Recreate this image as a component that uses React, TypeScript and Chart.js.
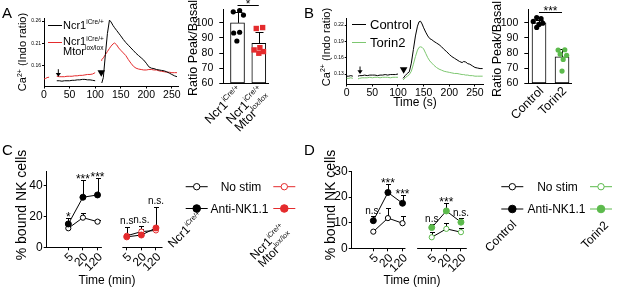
import React, { useEffect, useRef } from 'react';
import { Chart, registerables } from 'chart.js';

Chart.register(...registerables);

const FONT = '"Liberation Sans", Arial, Helvetica, sans-serif';
const INK = '#000000';
const RED = '#e42b2d';
const GREEN = '#5cba4c';
const TRACE_GREEN = '#7dc770';

// ---------------- Panel A: Ca2+ traces ----------------
const aTime = [0, 3, 6, 10, 18, 25, 30, 35, 40, 45, 50, 55, 60, 65, 70, 75, 80, 85, 90, 95, 100, 106,
  112, 113, 116, 120, 124, 128, 131, 135, 138, 142, 146, 150,
  155, 160, 165, 170, 175, 180, 185, 190, 195, 200, 205, 210, 215, 220, 225, 230, 235, 240, 245, 250, 255, 260];
const aNcr1 = [null, null, null, null, null,
  0.127, 0.127, 0.126, 0.127, 0.127, 0.127, 0.128, 0.128, 0.129, 0.129, 0.130, 0.130, 0.129, 0.129, 0.128, 0.127,
  null,
  null, 0.122, 0.134, 0.185, 0.232, 0.262, 0.258, 0.250, 0.245, 0.239, 0.233, 0.227,
  0.219, 0.212, 0.206, 0.200, 0.194, 0.188, 0.183, 0.178, 0.173, 0.166, 0.158, 0.155, 0.154, 0.152, 0.151, 0.150, 0.149, 0.147, 0.144, 0.141, 0.138, 0.136];
const aMtor = [0.131, 0.132, 0.134, 0.135, null,
  0.137, 0.136, 0.136, 0.136, 0.137, 0.137, 0.137, 0.138, 0.138, 0.139, 0.139, 0.140, 0.141, 0.141, 0.142, 0.145,
  null,
  0.172, 0.174, 0.178, 0.185, 0.192, 0.199, 0.204, 0.209, 0.211, 0.207, 0.200, 0.195,
  0.189, 0.183, 0.174, 0.166, 0.159, 0.155, 0.153, 0.152, 0.151, 0.151, 0.152, 0.152, 0.151, 0.151, 0.149, 0.148, 0.147, 0.146, 0.146, 0.145, 0.145, 0.145];
const aStimTime = [28, 112];
const aStimLevel = [0.136, 0.136];
const traceXTicks = [0, 50, 100, 150, 200, 250];
const aTraceYTicks = [0.16, 0.21, 0.26];

// ---------------- Panel A: peak/basal bars ----------------
const aBarMean = [100, 86.5];
const aBarSd = [7.2, 7.6];
const aNcr1Dots = [107.3, 108.2, 105.2, 93.3, 93.8, 88.0];
const aNcr1Jitter = [-0.2, 0.1, 0.28, -0.18, 0.1, -0.03];
const aMtorDots = [96.3, 96.9, 83.6, 82.1, 81.0, 79.9];
const aMtorJitter = [-0.12, 0.18, 0.05, -0.22, 0.22, 0.0];
const aBarSig = '*';
const ratioTicks = [60, 70, 80, 90, 100];

// ---------------- Panel B: Ca2+ traces ----------------
const bTime = [0, 4, 8, 12, 17, 22, 25, 30, 35, 40, 45, 50, 55, 60, 65, 70, 75, 80, 85, 90, 95, 100, 105,
  110, 114, 118, 122, 126, 130, 134, 138, 141, 144, 147, 150, 154, 158, 162, 166, 170,
  175, 180, 185, 190, 195, 200, 205, 210, 215, 220, 225, 228, 232, 236, 240, 245, 250, 255, 260, 265];
const bControl = [0.126, 0.126, 0.127, 0.126, null, 0.126, 0.127,
  0.127, 0.128, 0.127, 0.128, 0.128, 0.128, 0.127, 0.128, 0.128, 0.129, 0.128, 0.129, 0.129, 0.129, 0.130,
  null,
  0.122, 0.127, 0.131, 0.134, 0.150, 0.175, 0.200, 0.218, 0.226, 0.227, 0.222, 0.215,
  0.207, 0.200, 0.195, 0.193, 0.190,
  0.187, 0.184, 0.180, 0.175, 0.171, 0.166, 0.162, 0.159, 0.156, 0.153, 0.151, 0.153, 0.152, 0.149,
  0.148, 0.145, 0.142, 0.141, 0.140, 0.140];
const bTorin2 = [0.122, 0.122, 0.123, 0.122, null, 0.121, 0.122,
  0.123, 0.123, 0.123, 0.124, 0.123, 0.124, 0.124, 0.123, 0.124, 0.124, 0.124, 0.123, 0.124, 0.124, 0.124,
  null,
  0.119, 0.123, 0.126, 0.129, 0.135, 0.148, 0.162, 0.174, 0.179, 0.180, 0.179, 0.176,
  0.168, 0.160, 0.154, 0.150, 0.146,
  0.142, 0.139, 0.137, 0.135, 0.134, 0.133, 0.132, 0.131, 0.131, 0.130, 0.129, 0.129, 0.128, 0.128,
  0.127, 0.127, 0.126, 0.126, 0.126, 0.126];
const bStimTime = [26, 111];
const bStimLevel = [0.130, 0.1305];
const bTraceYTicks = [0.13, 0.16, 0.19, 0.22];
const bLegendNames = ['Control', 'Torin2'];

// ---------------- Panel B: peak/basal bars ----------------
const bBarNames = ['Control', 'Torin2'];
const bBarMean = [100, 77.5];
const bBarSd = [1.8, 5.0];
const bControlDots = [103.5, 102.8, 101.0, 99.8, 99.0, 97.0];
const bControlJitter = [-0.1, 0.09, -0.25, 0.16, 0.0, -0.1];
const bTorinDots = [82.0, 82.2, 79.3, 78.5, 75.8, 68.1];
const bTorinJitter = [-0.17, 0.12, -0.08, 0.2, 0.05, 0.0];
const bBarSig = '***';

// ---------------- Panels C and D: conjugates ----------------
const timeLabels = ['5', '20', '120'];
const legendNames = ['No stim', 'Anti-NK1.1'];
const cNcr1NoStim = [12.4, 19.3, 16.7];
const cNcr1NoStimSd = [1.5, 3.3, 0.8];
const cNcr1Anti = [15.2, 32.6, 34.1];
const cNcr1AntiSd = [3.7, 11.2, 10.8];
const cMtorNoStim = [7.5, 10.2, 11.0];
const cMtorNoStimSd = [1.2, 2.0, 1.0];
const cMtorAnti = [6.8, 8.0, 12.6];
const cMtorAntiSd = [6.6, 6.1, 13.7];
const cSigNcr1 = ['*', '***', '***'];
const cSigMtor = ['n.s', 'n.s.', 'n.s.'];
const cYTicks = [0, 20, 40];

const dCtrlNoStim = [6.5, 11.8, 9.8];
const dCtrlNoStimSd = [0.8, 3.9, 3.0];
const dCtrlAnti = [10.8, 21.8, 17.6];
const dCtrlAntiSd = [1.7, 3.5, 3.4];
const dTorNoStim = [4.3, 7.6, 6.3];
const dTorNoStimSd = [2.0, 2.2, 1.5];
const dTorAnti = [8.1, 14.6, 10.2];
const dTorAntiSd = [1.2, 3.0, 1.6];
const dSigCtrl = ['n.s.', '***', '***'];
const dSigTor = ['n.s', '***', 'n.s.'];
const dYTicks = [0, 10, 20, 30];

// ---------------- helpers ----------------
type Part = { t: string; s?: boolean };
type Box = { x: number; y: number; w: number; h: number };
type Area = { l: number; t: number; r: number; b: number };

const ncr1Label: Part[] = [{ t: 'Ncr1' }, { t: 'iCre/+', s: true }];
const mtorLabel: Part[] = [{ t: 'Mtor' }, { t: 'lox/lox', s: true }];
const caLabel: Part[] = [{ t: 'Ca' }, { t: '2+', s: true }, { t: ' (Indo ratio)' }];

function drawRich(ctx: CanvasRenderingContext2D, parts: Part[], x: number, y: number, size: number, sup: number,
  align: string, angle: number, color: string) {
  ctx.save();
  ctx.translate(x, y);
  if (angle) ctx.rotate(angle);
  let w = 0;
  for (const p of parts) { ctx.font = `${p.s ? sup : size}px ${FONT}`; w += ctx.measureText(p.t).width; }
  let cx = align === 'left' ? 0 : align === 'right' ? -w : -w / 2;
  const base = size * 0.36;
  ctx.fillStyle = color;
  ctx.textAlign = 'left';
  ctx.textBaseline = 'alphabetic';
  for (const p of parts) {
    ctx.font = `${p.s ? sup : size}px ${FONT}`;
    ctx.fillText(p.t, cx, p.s ? base - size * 0.42 : base);
    cx += ctx.measureText(p.t).width;
  }
  ctx.restore();
}

function drawRotLines(ctx: CanvasRenderingContext2D, lines: Part[][], ax: number, ay: number, size: number, sup: number, lh: number) {
  ctx.save();
  ctx.translate(ax, ay);
  ctx.rotate(-Math.PI / 4);
  lines.forEach((parts, j) => drawRich(ctx, parts, 0, j * lh, size, sup, 'right', 0, INK));
  ctx.restore();
}

function hline(ctx: CanvasRenderingContext2D, x0: number, x1: number, y: number, color: string) {
  ctx.save();
  ctx.strokeStyle = color;
  ctx.lineWidth = 1;
  ctx.beginPath();
  ctx.moveTo(x0, y);
  ctx.lineTo(x1, y);
  ctx.stroke();
  ctx.restore();
}

function drawArrow(ctx: CanvasRenderingContext2D, x: number, tip: number) {
  ctx.save();
  ctx.strokeStyle = INK;
  ctx.fillStyle = INK;
  ctx.lineWidth = 1;
  ctx.beginPath();
  ctx.moveTo(x, tip - 7.5);
  ctx.lineTo(x, tip - 2.5);
  ctx.stroke();
  ctx.beginPath();
  ctx.moveTo(x - 2.6, tip - 3.8);
  ctx.lineTo(x + 2.6, tip - 3.8);
  ctx.lineTo(x, tip);
  ctx.closePath();
  ctx.fill();
  ctx.restore();
}

function drawTriangle(ctx: CanvasRenderingContext2D, x: number, tip: number) {
  ctx.save();
  ctx.fillStyle = INK;
  ctx.beginPath();
  ctx.moveTo(x - 3.8, tip - 6.5);
  ctx.lineTo(x + 3.8, tip - 6.5);
  ctx.lineTo(x, tip);
  ctx.closePath();
  ctx.fill();
  ctx.restore();
}

function zeroPad(s: any) {
  s.paddingLeft = 0; s.paddingRight = 0; s.paddingTop = 0; s.paddingBottom = 0;
}

function axisX(min: number, max: number, ticks: number[], size: number, tl: number, pad: number, extra: any = {}) {
  return {
    type: 'linear', min, max,
    grid: { display: true, drawOnChartArea: false, drawTicks: tl > 0, tickLength: tl, color: INK, lineWidth: 1 },
    border: { display: extra.border !== false, color: INK, width: 1 },
    ticks: {
      display: extra.labels !== false, color: INK, font: { family: FONT, size }, padding: pad, autoSkip: false,
      maxRotation: 0, minRotation: 0,
      callback: extra.fmt || ((v: any) => String(v)),
    },
    afterBuildTicks: (s: any) => { s.ticks = ticks.map((v) => ({ value: v })); },
  };
}

function axisY(min: number, max: number, ticks: number[], size: number, tl: number, pad: number, fmt?: any) {
  return {
    type: 'linear', min, max,
    grid: { display: true, drawOnChartArea: false, drawTicks: true, tickLength: tl, color: INK, lineWidth: 1 },
    border: { display: true, color: INK, width: 1 },
    ticks: { color: INK, font: { family: FONT, size }, padding: pad, autoSkip: false, callback: fmt || ((v: any) => String(v)) },
    afterBuildTicks: (s: any) => { s.ticks = ticks.map((v) => ({ value: v })); },
  };
}

function baseOptions() {
  return {
    responsive: false, maintainAspectRatio: false, animation: false, devicePixelRatio: 1, events: [],
    plugins: { legend: { display: false }, tooltip: { enabled: false }, title: { display: false } },
  };
}

function traceSet(time: number[], vals: (number | null)[], color: string) {
  return {
    data: time.map((t, i) => ({ x: t, y: vals[i] })),
    borderColor: color, borderWidth: 1, pointRadius: 0, spanGaps: false, clip: false, tension: 0,
  };
}

// ---------------- chart builders ----------------
const A_LINE_BOX: Box = { x: 0, y: 0, w: 185, h: 120 };
const A_LINE_AREA: Area = { l: 44, t: 18, r: 178, b: 86.5 };
function buildALine() {
  const box = A_LINE_BOX;
  return {
    type: 'line',
    data: { datasets: [traceSet(aTime, aNcr1, INK), traceSet(aTime, aMtor, RED)] },
    options: {
      ...baseOptions(),
      scales: {
        x: axisX(0, 262, traceXTicks, 10.5, 2, 0),
        y: axisY(0.1142, 0.2667, aTraceYTicks, 5, 2, 1, (v: number) => v.toFixed(2)),
      },
    },
    plugins: [{
      id: 'aLineExtras',
      afterDraw(chart: any) {
        const ctx = chart.ctx, xs = chart.scales.x, ys = chart.scales.y;
        drawArrow(ctx, xs.getPixelForValue(aStimTime[0]), ys.getPixelForValue(aStimLevel[0]));
        drawTriangle(ctx, xs.getPixelForValue(aStimTime[1]), ys.getPixelForValue(aStimLevel[1]));
        ctx.save();
        ctx.translate(-box.x, -box.y);
        drawRich(ctx, [{ t: 'A' }], 2, 13, 15, 9, 'left', 0, INK);
        drawRich(ctx, caLabel, 22.5, 52, 11, 7, 'center', -Math.PI / 2, INK);
        hline(ctx, 48, 62, 25.5, INK);
        drawRich(ctx, ncr1Label, 63, 25, 11, 6.5, 'left', 0, INK);
        hline(ctx, 48, 62, 42.5, RED);
        drawRich(ctx, ncr1Label, 63, 41.5, 11, 6.5, 'left', 0, INK);
        drawRich(ctx, mtorLabel, 63, 51, 11, 6.5, 'left', 0, INK);
        ctx.restore();
      },
    }],
  };
}

const B_LINE_BOX: Box = { x: 303, y: 0, w: 185, h: 115 };
const B_LINE_AREA: Area = { l: 346.7, t: 18, r: 483, b: 84.5 };
function buildBLine() {
  const box = B_LINE_BOX;
  return {
    type: 'line',
    data: { datasets: [traceSet(bTime, bControl, INK), traceSet(bTime, bTorin2, TRACE_GREEN)] },
    options: {
      ...baseOptions(),
      scales: {
        x: axisX(0, 265.7, traceXTicks, 10.5, 2, 0),
        y: axisY(0.1107, 0.233, bTraceYTicks, 5, 2, 1, (v: number) => v.toFixed(2)),
      },
    },
    plugins: [{
      id: 'bLineExtras',
      afterDraw(chart: any) {
        const ctx = chart.ctx, xs = chart.scales.x, ys = chart.scales.y;
        drawArrow(ctx, xs.getPixelForValue(bStimTime[0]), ys.getPixelForValue(bStimLevel[0]));
        drawTriangle(ctx, xs.getPixelForValue(bStimTime[1]), ys.getPixelForValue(bStimLevel[1]));
        ctx.save();
        ctx.translate(-box.x, -box.y);
        drawRich(ctx, [{ t: 'B' }], 304, 13, 15, 9, 'left', 0, INK);
        drawRich(ctx, caLabel, 326, 47, 11, 7, 'center', -Math.PI / 2, INK);
        drawRich(ctx, [{ t: 'Time (s)' }], 415, 101.5, 12, 7, 'center', 0, INK);
        hline(ctx, 352, 366, 24.5, INK);
        drawRich(ctx, [{ t: bLegendNames[0] }], 370, 24.5, 13, 7, 'left', 0, INK);
        hline(ctx, 352, 366, 42.5, TRACE_GREEN);
        drawRich(ctx, [{ t: bLegendNames[1] }], 370, 42.5, 13, 7, 'left', 0, INK);
        ctx.restore();
      },
    }],
  };
}

type DotSet = { vals: number[]; jitter: number[]; at: number; color: string; style: string; r: number };
type BarSpec = {
  box: Box; xMin: number; xMax: number; means: number[]; sds: number[]; dots: DotSet[];
  sig: string; labels: Part[][][]; yTitle: [number, number];
};

function buildBars(p: BarSpec) {
  const datasets: any[] = [{
    type: 'bar', data: p.means.map((m, i) => ({ x: i, y: m })), backgroundColor: '#ffffff', borderColor: INK,
    borderWidth: 1, borderSkipped: false, barThickness: 14, base: 60, order: 2,
  }];
  p.dots.forEach((d) => datasets.push({
    type: 'scatter', data: d.vals.map((v, i) => ({ x: d.at + d.jitter[i], y: v })), order: 1, clip: false,
    pointStyle: d.style, pointRadius: d.r, pointBackgroundColor: d.color, pointBorderColor: d.color, pointBorderWidth: 0,
  }));
  return {
    type: 'bar',
    data: { datasets },
    options: {
      ...baseOptions(),
      scales: {
        x: axisX(p.xMin, p.xMax, [], 10, 0, 0, { labels: false }),
        y: axisY(60, 109, ratioTicks, 10.5, 4, 6),
      },
    },
    plugins: [{
      id: 'barExtras',
      beforeDatasetsDraw(chart: any) {
        const ctx = chart.ctx, xs = chart.scales.x, ys = chart.scales.y;
        ctx.save();
        ctx.strokeStyle = INK;
        ctx.lineWidth = 1;
        p.means.forEach((m, i) => {
          const px = Math.round(xs.getPixelForValue(i)) + 0.5;
          const y0 = ys.getPixelForValue(m), y1 = Math.round(ys.getPixelForValue(m + p.sds[i])) + 0.5;
          ctx.beginPath();
          ctx.moveTo(px, y0); ctx.lineTo(px, y1);
          ctx.moveTo(px - 4, y1); ctx.lineTo(px + 4, y1);
          ctx.stroke();
        });
        ctx.restore();
      },
      afterDraw(chart: any) {
        const ctx = chart.ctx, xs = chart.scales.x, ys = chart.scales.y;
        let top = 0;
        p.dots.forEach((d) => d.vals.forEach((v) => { top = Math.max(top, v); }));
        p.means.forEach((m, i) => { top = Math.max(top, m + p.sds[i]); });
        const sy = Math.round(ys.getPixelForValue(top) - 5.5) + 0.5;
        const x0 = xs.getPixelForValue(0), x1 = xs.getPixelForValue(1);
        hline(ctx, x0, x1, sy, INK);
        ctx.save();
        ctx.fillStyle = INK;
        ctx.font = `12px ${FONT}`;
        ctx.textAlign = 'center';
        ctx.textBaseline = 'alphabetic';
        ctx.fillText(p.sig, (x0 + x1) / 2, sy + 2.5);
        ctx.restore();
        const axisY0 = chart.chartArea.bottom;
        p.labels.forEach((lines, i) => {
          drawRotLines(ctx, lines, xs.getPixelForValue(i) + 2, axisY0 + 5, 12.5, 7.5, 11.5);
        });
        ctx.save();
        ctx.translate(-p.box.x, -p.box.y);
        drawRich(ctx, [{ t: 'Ratio Peak/Basal' }], p.yTitle[0], p.yTitle[1], 12.5, 7, 'center', -Math.PI / 2, INK);
        ctx.restore();
      },
    }],
  };
}

const A_BAR_BOX: Box = { x: 185, y: 0, w: 118, h: 135 };
const A_BAR_AREA: Area = { l: 223.3, t: 9.3, r: 268.3, b: 83.3 };
function buildABar() {
  return buildBars({
    box: A_BAR_BOX, xMin: -0.667, xMax: 1.446, means: aBarMean, sds: aBarSd,
    dots: [
      { vals: aNcr1Dots, jitter: aNcr1Jitter, at: 0, color: INK, style: 'circle', r: 2.6 },
      { vals: aMtorDots, jitter: aMtorJitter, at: 1, color: RED, style: 'rect', r: 3.8 },
    ],
    sig: aBarSig, labels: [[ncr1Label], [ncr1Label, mtorLabel]], yTitle: [192.5, 48],
  });
}

const B_BAR_BOX: Box = { x: 488, y: 0, w: 129, h: 135 };
const B_BAR_AREA: Area = { l: 528.3, t: 9.3, r: 571.7, b: 83.3 };
function buildBBar() {
  return buildBars({
    box: B_BAR_BOX, xMin: -0.465, xMax: 1.42, means: bBarMean, sds: bBarSd,
    dots: [
      { vals: bControlDots, jitter: bControlJitter, at: 0, color: INK, style: 'circle', r: 2.6 },
      { vals: bTorinDots, jitter: bTorinJitter, at: 1, color: GREEN, style: 'circle', r: 2.6 },
    ],
    sig: bBarSig, labels: [[[{ t: bBarNames[0] }]], [[{ t: bBarNames[1] }]]], yTitle: [496.5, 49],
  });
}

type Series = { vals: number[]; sd: number[]; start: number; color: string; filled: boolean };
type GroupSpec = {
  box: Box; yMax: number; yTicks: number[]; series: Series[]; sig: { start: number; labels: string[] }[];
  segs: number[][]; letter: [string, number, number]; yTitle: [number, number]; xTitle: [number, number];
  legend: { blackX: number; colorX: number; row1: number; row2: number; noStimX: number; antiX: number; color: string };
  groupLabels: { lines: Part[][]; at: [number, number] }[];
};

function legendItem(ctx: CanvasRenderingContext2D, x: number, y: number, color: string, filled: boolean) {
  hline(ctx, x - 11, x + 11, y, color);
  ctx.save();
  ctx.beginPath();
  ctx.arc(x, y, filled ? 3.8 : 3.2, 0, Math.PI * 2);
  ctx.fillStyle = filled ? color : '#ffffff';
  ctx.fill();
  ctx.strokeStyle = color;
  ctx.lineWidth = 1;
  ctx.stroke();
  ctx.restore();
}

const SLOTS = [0, 1, 2, 4, 5, 6];

function buildGroup(g: GroupSpec) {
  const datasets = g.series.map((s) => ({
    data: s.vals.map((v, i) => ({ x: s.start + i, y: v })),
    borderColor: INK, borderWidth: 1, tension: 0, clip: false,
    pointStyle: 'circle', pointRadius: s.filled ? 3 : 2.6,
    pointBackgroundColor: s.filled ? s.color : '#ffffff', pointBorderColor: s.color, pointBorderWidth: 1,
  }));
  return {
    type: 'line',
    data: { datasets },
    options: {
      ...baseOptions(),
      scales: {
        x: axisX(-1.48, 6.77, SLOTS, 12, 3, 1, { border: false, labels: false }),
        y: axisY(0, g.yMax, g.yTicks, 12, 3, 1),
      },
    },
    plugins: [{
      id: 'groupExtras',
      beforeDatasetsDraw(chart: any) {
        const ctx = chart.ctx, xs = chart.scales.x, ys = chart.scales.y;
        ctx.save();
        ctx.strokeStyle = INK;
        ctx.lineWidth = 1;
        g.series.forEach((s) => s.vals.forEach((v, i) => {
          const px = Math.round(xs.getPixelForValue(s.start + i)) + 0.5;
          const y0 = ys.getPixelForValue(v), y1 = Math.round(ys.getPixelForValue(v + s.sd[i])) + 0.5;
          ctx.beginPath();
          ctx.moveTo(px, y0); ctx.lineTo(px, y1);
          ctx.moveTo(px - 2.5, y1); ctx.lineTo(px + 2.5, y1);
          ctx.stroke();
        }));
        ctx.restore();
      },
      afterDraw(chart: any) {
        const ctx = chart.ctx, xs = chart.scales.x, ys = chart.scales.y;
        const ay = Math.round(ys.getPixelForValue(0) - 0.5) + 0.5;
        g.segs.forEach(([a, b]) => hline(ctx, xs.getPixelForValue(a), xs.getPixelForValue(b), ay, INK));
        SLOTS.forEach((v, i) => {
          drawRotLines(ctx, [[{ t: timeLabels[i % 3] }]], xs.getPixelForValue(v) + 2.5, ay + 7, 12, 7, 0);
        });
        ctx.save();
        ctx.fillStyle = INK;
        ctx.textAlign = 'center';
        ctx.textBaseline = 'alphabetic';
        g.sig.forEach((sg) => sg.labels.forEach((lab, i) => {
          let top = 0;
          g.series.forEach((s) => { if (s.start === sg.start) top = Math.max(top, s.vals[i] + s.sd[i]); });
          const px = xs.getPixelForValue(sg.start + i), cap = ys.getPixelForValue(top);
          const star = lab.charAt(0) === '*';
          ctx.font = `${star ? 12 : 10}px ${FONT}`;
          ctx.fillText(lab, px, star ? cap + 3 : cap - 2.5);
        }));
        ctx.restore();
        ctx.save();
        ctx.translate(-g.box.x, -g.box.y);
        drawRich(ctx, [{ t: g.letter[0] }], g.letter[1], g.letter[2], 15, 9, 'left', 0, INK);
        drawRich(ctx, [{ t: '% bound NK cells' }], g.yTitle[0], g.yTitle[1], 14, 8, 'center', -Math.PI / 2, INK);
        drawRich(ctx, [{ t: 'Time (min)' }], g.xTitle[0], g.xTitle[1], 12, 7, 'center', 0, INK);
        const L = g.legend;
        legendItem(ctx, L.blackX, L.row1, INK, false);
        legendItem(ctx, L.colorX, L.row1, L.color, false);
        legendItem(ctx, L.blackX, L.row2, INK, true);
        legendItem(ctx, L.colorX, L.row2, L.color, true);
        drawRich(ctx, [{ t: legendNames[0] }], L.noStimX, L.row1, 12, 7, 'center', 0, INK);
        drawRich(ctx, [{ t: legendNames[1] }], L.antiX, L.row2, 12, 7, 'center', 0, INK);
        g.groupLabels.forEach((gl) => drawRotLines(ctx, gl.lines, gl.at[0], gl.at[1], 12, 7, 11));
        ctx.restore();
      },
    }],
  };
}

const C_BOX: Box = { x: 0, y: 130, w: 305, h: 169 };
const C_AREA: Area = { l: 46.7, t: 171.3, r: 167.2, b: 247.3 };
function buildC() {
  return buildGroup({
    box: C_BOX, yMax: 49.5, yTicks: cYTicks,
    series: [
      { vals: cNcr1Anti, sd: cNcr1AntiSd, start: 0, color: INK, filled: true },
      { vals: cNcr1NoStim, sd: cNcr1NoStimSd, start: 0, color: INK, filled: false },
      { vals: cMtorAnti, sd: cMtorAntiSd, start: 4, color: RED, filled: true },
      { vals: cMtorNoStim, sd: cMtorNoStimSd, start: 4, color: RED, filled: false },
    ],
    sig: [{ start: 0, labels: cSigNcr1 }, { start: 4, labels: cSigMtor }],
    segs: [[-1.48, 2.3], [3.7, 6.45]],
    letter: ['C', 2, 150], yTitle: [20.5, 205], xTitle: [107, 280],
    legend: { blackX: 196.7, colorX: 284.3, row1: 186.7, row2: 208.5, noStimX: 241, antiX: 239.5, color: RED },
    groupLabels: [
      { lines: [ncr1Label], at: [201, 214] },
      { lines: [ncr1Label, mtorLabel], at: [283, 226] },
    ],
  });
}

const D_BOX: Box = { x: 305, y: 130, w: 312, h: 169 };
const D_AREA: Area = { l: 351.7, t: 171, r: 472.2, b: 248.3 };
function buildD() {
  return buildGroup({
    box: D_BOX, yMax: 30.2, yTicks: dYTicks,
    series: [
      { vals: dCtrlAnti, sd: dCtrlAntiSd, start: 0, color: INK, filled: true },
      { vals: dCtrlNoStim, sd: dCtrlNoStimSd, start: 0, color: INK, filled: false },
      { vals: dTorAnti, sd: dTorAntiSd, start: 4, color: GREEN, filled: true },
      { vals: dTorNoStim, sd: dTorNoStimSd, start: 4, color: GREEN, filled: false },
    ],
    sig: [{ start: 0, labels: dSigCtrl }, { start: 4, labels: dSigTor }],
    segs: [[-1.48, 2.2], [3.0, 6.4]],
    letter: ['D', 304, 150], yTitle: [329.5, 205], xTitle: [412, 280],
    legend: { blackX: 512.3, colorX: 601, row1: 186.7, row2: 209, noStimX: 557.5, antiX: 556.5, color: GREEN },
    groupLabels: [
      { lines: [[{ t: 'Control' }]], at: [514, 222] },
      { lines: [[{ t: 'Torin2' }]], at: [606, 223] },
    ],
  });
}

function ChartCanvas({ box, area, build }: { box: Box; area: Area; build: () => any }) {
  const ref = useRef<HTMLCanvasElement | null>(null);
  useEffect(() => {
    const cfg = build();
    const leftW = area.l - box.x;
    const bottomH = box.y + box.h - area.b;
    cfg.options.scales.y.afterFit = (s: any) => { s.width = leftW; zeroPad(s); };
    cfg.options.scales.x.afterFit = (s: any) => { s.height = bottomH; zeroPad(s); };
    cfg.options.layout = {
      autoPadding: false,
      padding: { left: 0, top: area.t - box.y, right: box.x + box.w - area.r, bottom: 0 },
    };
    const chart = new Chart(ref.current as HTMLCanvasElement, cfg);
    return () => chart.destroy();
  }, []);
  return (
    <canvas ref={ref} width={box.w} height={box.h}
      style={{ position: 'absolute', left: box.x, top: box.y, width: box.w, height: box.h }} />
  );
}

export default function App() {
  return (
    <div style={{ position: 'fixed', left: 0, top: 0, width: 617, height: 299, background: '#ffffff', overflow: 'hidden' }}>
      <ChartCanvas box={A_LINE_BOX} area={A_LINE_AREA} build={buildALine} />
      <ChartCanvas box={A_BAR_BOX} area={A_BAR_AREA} build={buildABar} />
      <ChartCanvas box={B_LINE_BOX} area={B_LINE_AREA} build={buildBLine} />
      <ChartCanvas box={B_BAR_BOX} area={B_BAR_AREA} build={buildBBar} />
      <ChartCanvas box={C_BOX} area={C_AREA} build={buildC} />
      <ChartCanvas box={D_BOX} area={D_AREA} build={buildD} />
    </div>
  );
}
